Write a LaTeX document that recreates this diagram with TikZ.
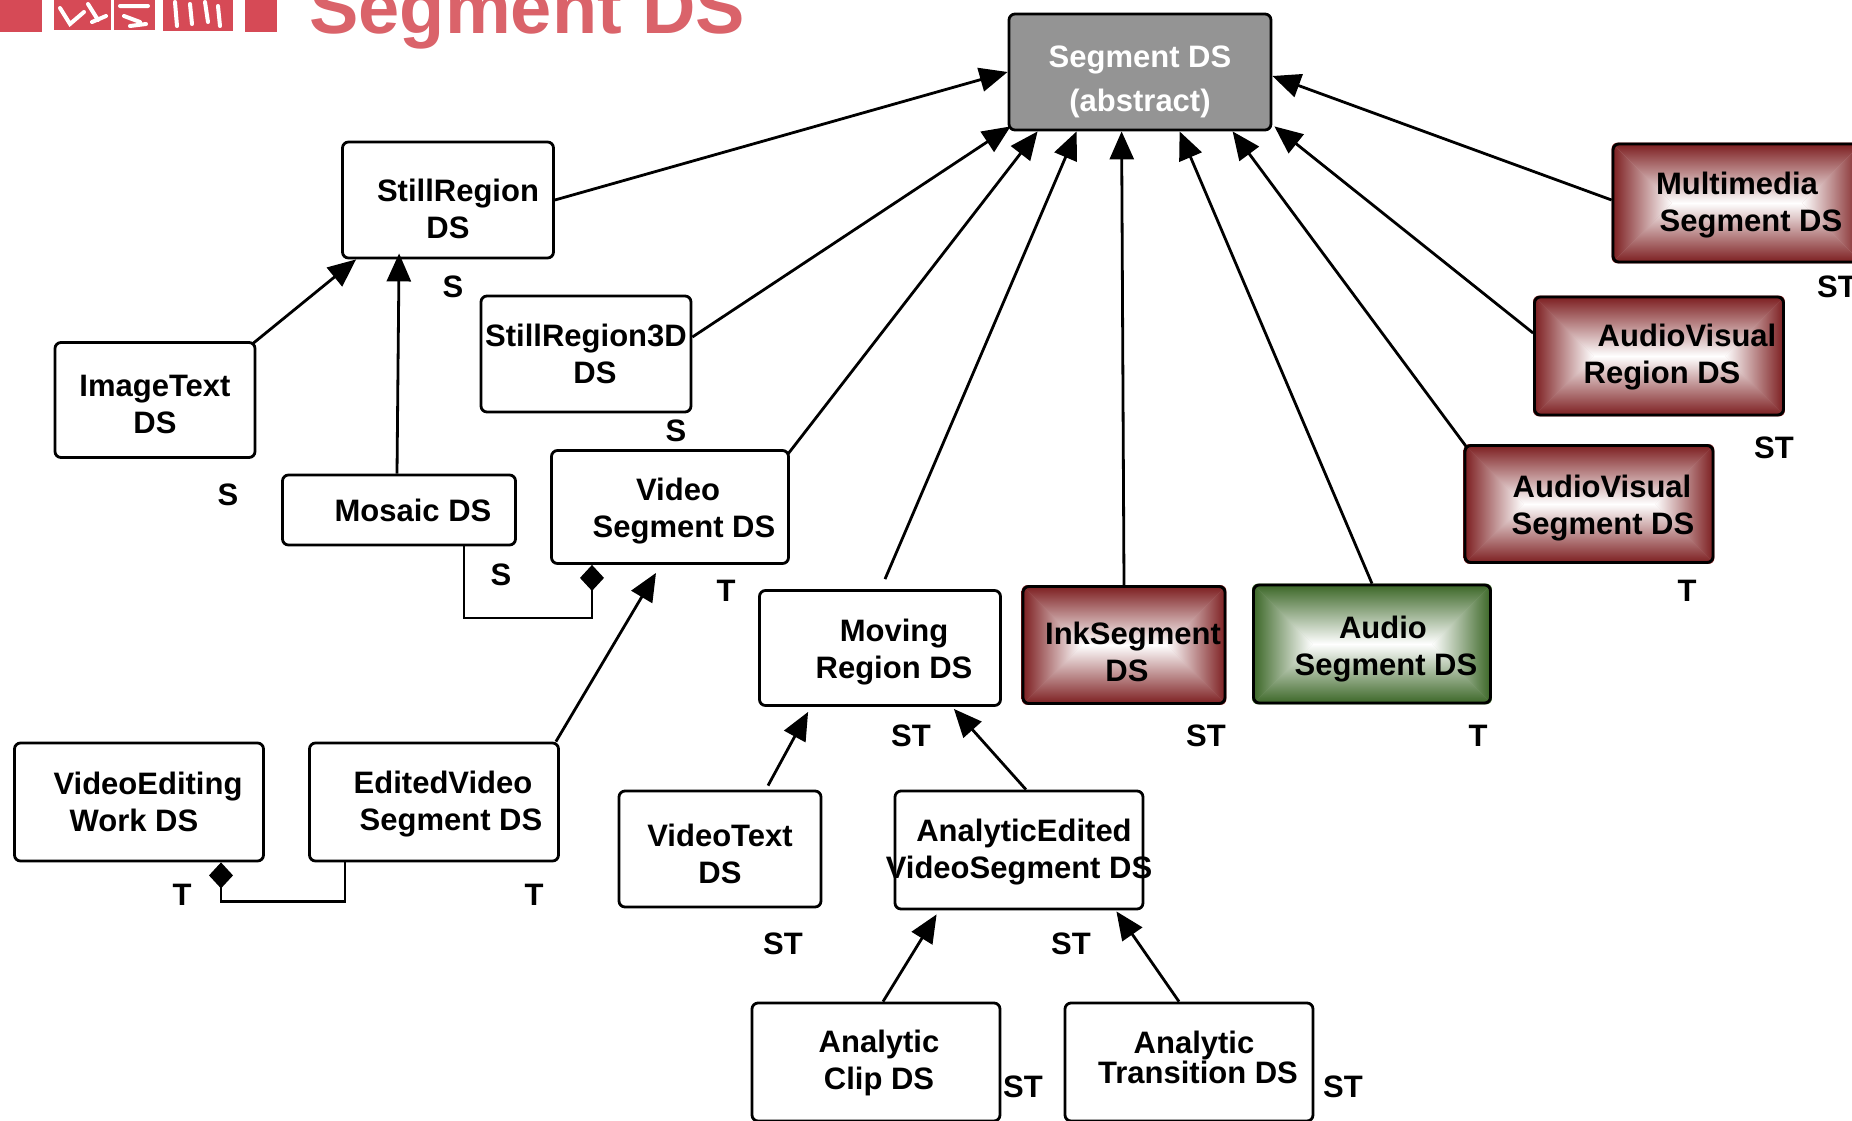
\documentclass[tikz,border=0pt]{standalone}
\usepackage{fontspec}
\setmainfont{Liberation Sans}
\usetikzlibrary{arrows.meta,calc,backgrounds}

\definecolor{segred}{HTML}{7A1A1C}
\definecolor{seggreen}{HTML}{386423}
\definecolor{absgray}{HTML}{949494}
\definecolor{titlered}{HTML}{DA636A}
\definecolor{logored}{HTML}{D64A56}

\newcommand\boxfont{\fontsize{15.5}{18.5}\selectfont\bfseries}
% vertical nudge of box text (set per box through the dy style)
\newcommand\txdy{0pt}
% one centred line of a box label, optionally pushed right
\newcommand\txl[2][0]{\makebox[0pt]{\hspace*{#1pt}\vphantom{#2}\smash{\raisebox{\txdy}{#2}}}}
% pyramid (bevelled) shading behind a named box
\newcommand\pyr[2]{%
  \begin{scope}[on background layer]
  \begin{scope}
    \clip[rounded corners=3pt] (#1.south west) rectangle (#1.north east);
    \fill[#2!40!white] (#1.south west) rectangle (#1.north east);
    \path[top color=#2, middle color=#2!38!white, bottom color=white]
      let \p1=(#1.south west), \p2=(#1.north east),
          \p3=($(#1.south west)!0.5!(#1.north east)$) in
      (\x1,\y2) -- (\x2,\y2) -- (\x2-\y3+\y1,\y3) -- (\x1+\y3-\y1,\y3) -- cycle;
    \path[top color=white, middle color=#2!38!white, bottom color=#2]
      let \p1=(#1.south west), \p2=(#1.north east),
          \p3=($(#1.south west)!0.5!(#1.north east)$) in
      (\x1,\y1) -- (\x2,\y1) -- (\x2-\y3+\y1,\y3) -- (\x1+\y3-\y1,\y3) -- cycle;
    \path[left color=#2, middle color=#2!38!white, right color=white]
      let \p1=(#1.south west), \p2=(#1.north east),
          \p3=($(#1.south west)!0.5!(#1.north east)$) in
      (\x1,\y1) -- (\x1,\y2) -- (\x1+\y3-\y1,\y3) -- cycle;
    \path[left color=white, middle color=#2!38!white, right color=#2]
      let \p1=(#1.south west), \p2=(#1.north east),
          \p3=($(#1.south west)!0.5!(#1.north east)$) in
      (\x2,\y1) -- (\x2,\y2) -- (\x2-\y3+\y1,\y3) -- cycle;
  \end{scope}
  \end{scope}}

\begin{document}
\begin{tikzpicture}[x=0.5pt,y=-0.5pt,
  box/.style={draw, line width=1.4pt, rounded corners=3pt, inner sep=0pt,
    align=center, font=\boxfont, text=black},
  plain/.style={box, fill=white},
  sz/.style 2 args={minimum width=#1*0.5pt, minimum height=#2*0.5pt},
  dy/.style={execute at begin node={\renewcommand\txdy{#1}}},
  lab/.style={font=\boxfont, inner sep=0pt},
  inh/.style={line width=1.4pt, -{Triangle[length=14pt,width=12pt]}},
  comp/.style={line width=1.4pt, -{Diamond[length=13pt,width=12pt]}}]

\useasboundingbox (0,0) rectangle (1852,1120);
\begin{scope}[on background layer]
  \fill[white] (0,0) rectangle (1852,1120);
\end{scope}

% heading mark and title
\fill[logored] (0,-2) rectangle (42,32);
\fill[logored] (54,-2) rectangle (111,30);
\fill[logored] (114,-2) rectangle (155,30);
\fill[logored] (163,-2) rectangle (233,31);
\fill[logored] (245,-2) rectangle (277,32);
\begin{scope}[white, line width=2pt, line cap=round]
  \draw (60,8) -- (70,24) -- (84,12);
  \draw (88,4) -- (98,20) (92,22) -- (106,16);
  \draw (120,6) -- (148,6) (124,16) -- (140,22) (130,26) -- (146,24);
  \draw (175,2) -- (177,26) (190,4) -- (192,24) (205,2) -- (208,22) (218,6) -- (220,26);
\end{scope}
\node[anchor=base west, inner sep=0pt, text=titlered,
  font=\fontsize{37}{40}\selectfont\bfseries] (title) at (309,33) {Segment DS};

% boxes
\node[box, fill=absgray, text=white, sz={262}{116}, dy=-4.7pt,
  font=\fontsize{15.5}{22}\selectfont\bfseries] (seg) at (1140,72)
  {\txl{Segment DS}\\\txl{(abstract)}};
\node[plain, sz={211}{116}, dy=-4.7pt] (still) at (448,200) {\txl[10]{StillRegion}\\\txl{DS}};
\node[plain, sz={200}{115}, dy=-2.4pt] (imgtext) at (155,400) {\txl{ImageText}\\\txl{DS}};
\node[plain, sz={210}{116}] (still3d) at (586,354) {\txl{StillRegion3D}\\\txl[9]{DS}};
\node[plain, sz={233}{70}] (mosaic) at (399,510) {\txl[14]{Mosaic DS}};
\node[plain, sz={237}{113}, dy=-1.8pt] (video) at (670,507) {\txl[8]{Video}\\\txl[14]{Segment DS}};
\node[plain, sz={241}{115}, dy=-1.8pt] (moving) at (880,648) {\txl[14]{Moving}\\\txl[14]{Region DS}};
\node[box, sz={202}{117}, dy=-3.5pt] (ink) at (1124,645) {\txl[9]{InkSegment}\\\txl[3]{DS}};
\node[box, sz={237}{118}, dy=-2.4pt] (audio) at (1372,644) {\txl[11]{Audio}\\\txl[14]{Segment DS}};
\node[box, sz={248}{117}, dy=-1.8pt] (avseg) at (1589,504) {\txl[13]{AudioVisual}\\\txl[14]{Segment DS}};
\node[box, sz={249}{118}, dy=-0.6pt] (avreg) at (1659,356) {\txl[28]{AudioVisual}\\\txl[3]{Region DS}};
\node[box, sz={248}{118}, dy=-1.2pt] (mm) at (1737,203) {\txl{Multimedia}\\\txl[14]{Segment DS}};
\node[plain, sz={249}{118}] (vew) at (139,802) {\txl[9]{VideoEditing}\\\txl[-5]{Work DS}};
\node[plain, sz={249}{118}, dy=-1.2pt] (edited) at (434,802) {\txl[9]{EditedVideo}\\\txl[17]{Segment DS}};
\node[plain, sz={202}{116}, dy=-2.4pt] (vtext) at (720,849) {\txl{VideoText}\\\txl{DS}};
\node[plain, sz={248}{118}, dy=-1.2pt] (aevs) at (1019,850) {\txl[5]{AnalyticEdited}\\\txl{VideoSegment DS}};
\node[plain, sz={248}{118}, dy=-0.6pt] (clip) at (876,1062) {\txl[3]{Analytic}\\\txl[3]{Clip DS}};
\node[plain, sz={248}{118}, dy=2.4pt, font=\fontsize{15.5}{15}\selectfont\bfseries] (trans) at (1189,1062)
  {\txl[5]{Analytic}\\\txl[9]{Transition DS}};

\pyr{ink}{segred}
\pyr{audio}{seggreen}
\pyr{avseg}{segred}
\pyr{avreg}{segred}
\pyr{mm}{segred}

% segment kind labels
\node[lab] (l-still) at (453,287) {S};
\node[lab] (l-imgtext) at (228,495) {S};
\node[lab] (l-still3d) at (676,431) {S};
\node[lab] (l-mosaic) at (501,575) {S};
\node[lab] (l-video) at (726,591) {T};
\node[lab] (l-moving) at (911,736) {ST};
\node[lab] (l-ink) at (1206,736) {ST};
\node[lab] (l-audio) at (1478,736) {T};
\node[lab] (l-avseg) at (1687,591) {T};
\node[lab] (l-avreg) at (1774,448) {ST};
\node[lab] (l-mm) at (1837,287) {ST};
\node[lab] (l-vew) at (182,895) {T};
\node[lab] (l-edited) at (534,895) {T};
\node[lab] (l-vtext) at (783,944) {ST};
\node[lab] (l-aevs) at (1071,944) {ST};
\node[lab] (l-clip) at (1023,1087) {ST};
\node[lab] (l-trans) at (1343,1087) {ST};

% inheritance
\draw[inh] (still.east) -- (seg.west);
\draw[inh] ($(still3d.east)+(0,-17)$) -- ($(seg.south west)+(3,-5)$);
\draw[inh] ($(video.north east)+(-2,5)$) -- ($(seg.south west)+(30,0)$);
\draw[inh] ($(moving.north)+(5,-10)$) -- ($(seg.south west)+(69,0)$);
\draw[inh] (ink.north) -- ($(seg.south west)+(114,0)$);
\draw[inh] (audio.north) -- ($(seg.south west)+(172,0)$);
\draw[inh] ($(avseg.north west)+(3,3)$) -- ($(seg.south west)+(225,0)$);
\draw[inh] ($(avreg.west)+(0,-23)$) -- ($(seg.south east)+(2,-5)$);
\draw[inh] ($(mm.west)+(0,-3)$) -- ($(seg.east)+(0,4)$);
\draw[inh] ($(imgtext.north east)+(-3,2)$) -- ($(still.south west)+(15,0)$);
\draw[inh] ($(mosaic.north)+(-2,0)$) -- ($(still.south west)+(58,-6)$);
\draw[inh] ($(edited.north east)+(-4,0)$) -- ($(video.south)+(-14,8)$);
\draw[inh] ($(vtext.north)+(48,-4)$) -- ($(moving.south west)+(50,5)$);
\draw[inh] ($(aevs.north)+(7,0)$) -- ($(moving.south east)+(-48,2)$);
\draw[inh] ($(clip.north)+(7,0)$) -- ($(aevs.south west)+(43,4)$);
\draw[inh] ($(trans.north)+(-10,0)$) -- ($(aevs.south east)+(-28,1)$);

% composition
\draw[comp] ($(mosaic.south)+(65,0)$) |- ($(video.south)+(-78,53)$) -- ($(video.south)+(-78,0)$);
\draw[comp] ($(edited.south)+(-89,0)$) |- ($(vew.south)+(82,39)$) -- ($(vew.south)+(82,0)$);
\end{tikzpicture}
\end{document}
